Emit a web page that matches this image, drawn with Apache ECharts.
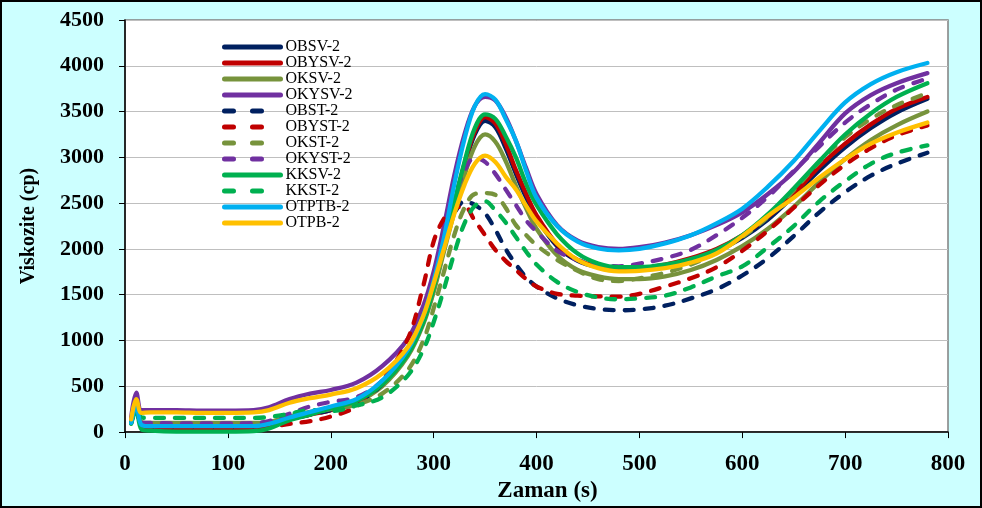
<!DOCTYPE html>
<html>
<head>
<meta charset="utf-8">
<script src="https://cdn.jsdelivr.net/npm/echarts@6/dist/echarts.min.js"></script>
<style>
html,body{margin:0;padding:0;background:#CCFFFF;}
#c{width:982px;height:508px;}
</style>
</head>
<body>
<div id="c"></div>
<script>
var xs = [6, 11, 16, 25, 50, 75, 100, 125, 140, 160, 180, 200, 225, 250, 275, 290, 300, 310, 320, 330, 340, 350, 360, 370, 380, 390, 400, 420, 440, 460, 480, 500, 525, 550, 575, 600, 625, 650, 675, 700, 725, 750, 780];

var OBSV = [120, 300, 80, 60, 55, 50, 50, 55, 80, 150, 200, 250, 330, 520, 850, 1200, 1550, 2000, 2450, 2900, 3250, 3400, 3330, 3100, 2820, 2560, 2340, 2030, 1870, 1800, 1775, 1780, 1820, 1880, 1980, 2120, 2320, 2580, 2860, 3110, 3320, 3490, 3640];
var OBYSV = [110, 290, 70, 50, 45, 45, 45, 50, 70, 140, 190, 240, 320, 520, 860, 1220, 1580, 2030, 2480, 2930, 3280, 3440, 3370, 3150, 2860, 2600, 2370, 2050, 1880, 1810, 1785, 1790, 1830, 1900, 2000, 2150, 2350, 2600, 2900, 3150, 3360, 3530, 3660];
var OKSV = [130, 330, 110, 100, 100, 100, 100, 100, 110, 170, 220, 260, 330, 500, 830, 1180, 1530, 1970, 2400, 2800, 3120, 3250, 3170, 2960, 2690, 2440, 2220, 1930, 1770, 1700, 1670, 1670, 1700, 1770, 1880, 2030, 2220, 2460, 2730, 2980, 3190, 3350, 3500];
var OKYSV = [160, 430, 240, 240, 240, 235, 235, 240, 270, 360, 420, 460, 540, 720, 1020, 1380, 1750, 2250, 2800, 3250, 3560, 3660, 3620, 3440, 3180, 2880, 2600, 2260, 2090, 2020, 2000, 2020, 2070, 2150, 2260, 2400, 2600, 2840, 3160, 3480, 3680, 3810, 3920];
var OBST = [100, 280, 60, 50, 50, 50, 50, 55, 80, 140, 190, 240, 320, 520, 870, 1250, 1650, 2050, 2380, 2520, 2480, 2390, 2210, 2000, 1830, 1690, 1590, 1460, 1385, 1345, 1330, 1340, 1380, 1460, 1560, 1710, 1900, 2140, 2400, 2620, 2800, 2930, 3050];
var OBYST = [110, 290, 60, 50, 45, 45, 45, 45, 55, 90, 120, 170, 280, 560, 1020, 1600, 2080, 2330, 2450, 2460, 2310, 2150, 1990, 1870, 1770, 1670, 1590, 1510, 1490, 1482, 1480, 1510, 1590, 1680, 1800, 1980, 2200, 2450, 2700, 2920, 3100, 3240, 3350];
var OKST = [120, 300, 90, 80, 80, 80, 80, 85, 100, 150, 200, 250, 300, 420, 680, 1000, 1350, 1750, 2150, 2450, 2600, 2610, 2590, 2450, 2260, 2150, 2040, 1880, 1760, 1670, 1650, 1680, 1740, 1830, 1960, 2130, 2350, 2640, 2950, 3220, 3420, 3570, 3700];
var OKYST = [130, 320, 100, 100, 95, 95, 95, 100, 120, 200, 280, 330, 380, 560, 900, 1300, 1700, 2150, 2550, 2850, 3000, 2950, 2820, 2650, 2480, 2310, 2190, 1980, 1880, 1825, 1810, 1840, 1900, 1990, 2150, 2340, 2570, 2850, 3120, 3380, 3580, 3740, 3860];
var KKSV = [90, 250, 30, 15, 5, 5, 5, 10, 40, 130, 190, 260, 340, 520, 850, 1200, 1570, 2030, 2500, 2950, 3320, 3470, 3420, 3230, 3000, 2710, 2480, 2160, 1950, 1840, 1800, 1800, 1830, 1890, 1990, 2150, 2380, 2660, 2960, 3250, 3480, 3660, 3810];
var KKST = [100, 260, 160, 155, 155, 155, 155, 155, 165, 200, 240, 230, 290, 380, 620, 900, 1200, 1560, 1950, 2280, 2470, 2520, 2420, 2290, 2130, 1970, 1830, 1640, 1530, 1470, 1450, 1460, 1490, 1580, 1700, 1810, 2020, 2250, 2520, 2740, 2930, 3050, 3130];
var OTPTB = [100, 300, 80, 65, 65, 65, 65, 65, 90, 160, 220, 280, 360, 560, 900, 1270, 1650, 2120, 2700, 3200, 3560, 3690, 3630, 3420, 3180, 2850, 2560, 2250, 2080, 2005, 1985, 2000, 2060, 2150, 2280, 2440, 2680, 2960, 3290, 3600, 3800, 3930, 4030];
var OTPB = [140, 360, 210, 215, 215, 210, 210, 215, 240, 320, 370, 410, 480, 640, 930, 1270, 1620, 2000, 2380, 2700, 2930, 3020, 2950, 2790, 2650, 2470, 2300, 2060, 1880, 1790, 1755, 1760, 1790, 1850, 1950, 2140, 2360, 2560, 2780, 2980, 3150, 3270, 3380];

var names = ['OBSV-2','OBYSV-2','OKSV-2','OKYSV-2','OBST-2','OBYST-2','OKST-2','OKYST-2','KKSV-2','KKST-2','OTPTB-2','OTPB-2'];
var values = [OBSV, OBYSV, OKSV, OKYSV, OBST, OBYST, OKST, OKYST, KKSV, KKST, OTPTB, OTPB];
var colors = ['#002060','#C00000','#77933C','#7030A0','#002060','#C00000','#77933C','#7030A0','#00B050','#00B050','#00B0F0','#FFC000'];
var dashed = [false,false,false,false,true,true,true,true,false,true,false,false];

var series = names.map(function(n, k){
  return {
    name: n,
    type: 'line',
    smooth: 0.35,
    symbol: 'none',
    showSymbol: false,
    z: 2,
    lineStyle: {
      color: colors[k],
      width: 4.3,
      type: dashed[k] ? [9, 11] : 'solid',
      cap: 'round',
      join: 'round'
    },
    itemStyle: { color: colors[k] },
    data: xs.map(function(x, i){ return [x, values[k][i]]; })
  };
});

var legendData = names.map(function(n, k){
  return {
    name: n,
    itemStyle: { opacity: 0 },
    lineStyle: { width: 5, type: dashed[k] ? [9, 19] : 'solid', cap: 'round', opacity: 1 }
  };
});

var chart = echarts.init(document.getElementById('c'));
chart.setOption({
  animation: false,
  backgroundColor: '#CCFFFF',
  textStyle: { fontFamily: 'Liberation Serif' },
  graphic: [{
    type: 'rect',
    shape: { x: 1, y: 1, width: 980, height: 506 },
    style: { fill: 'none', stroke: '#000', lineWidth: 2 },
    silent: true,
    z: 100
  }],
  grid: {
    left: 125, right: 34, top: 20, bottom: 75,
    show: true, backgroundColor: '#FFFFFF', borderColor: '#808080', borderWidth: 1.5
  },
  legend: {
    orient: 'vertical',
    left: 217, top: 34,
    itemWidth: 56, itemHeight: 16, itemGap: 0,
    textStyle: { fontFamily: 'Liberation Serif', fontSize: 16, color: '#000', lineHeight: 16, padding: [0,0,0,0] },
    data: legendData
  },
  xAxis: {
    type: 'value', min: 0, max: 800, interval: 100,
    name: 'Zaman (s)', nameLocation: 'middle', nameGap: 47,
    nameTextStyle: { fontFamily: 'Liberation Serif', fontWeight: 'bold', fontSize: 23, color: '#000', padding: [0,0,0,22] },
    axisLine: { show: true, onZero: false, lineStyle: { color: '#000', width: 1.5 } },
    axisTick: { show: true, inside: false, length: 6, lineStyle: { color: '#000', width: 1 } },
    axisLabel: { fontFamily: 'Liberation Serif', fontWeight: 'bold', fontSize: 23, color: '#000', margin: 20,
      formatter: function(v){ return String(v); } },
    splitLine: { show: false }
  },
  yAxis: {
    type: 'value', min: 0, max: 4500, interval: 500,
    name: 'Viskozite (cp)', nameLocation: 'middle', nameGap: 86, nameRotate: 90,
    nameTextStyle: { fontFamily: 'Liberation Serif', fontWeight: 'bold', fontSize: 20, color: '#000' },
    axisLine: { show: true, onZero: false, lineStyle: { color: '#000', width: 1.5 } },
    axisTick: { show: true, inside: false, length: 6, lineStyle: { color: '#000', width: 1 } },
    axisLabel: { fontFamily: 'Liberation Serif', fontWeight: 'bold', fontSize: 22, color: '#000', margin: 21,
      formatter: function(v){ return String(v); } },
    splitLine: { show: true, lineStyle: { color: '#BFBFBF', width: 1 } }
  },
  series: series
});
</script>
</body>
</html>
